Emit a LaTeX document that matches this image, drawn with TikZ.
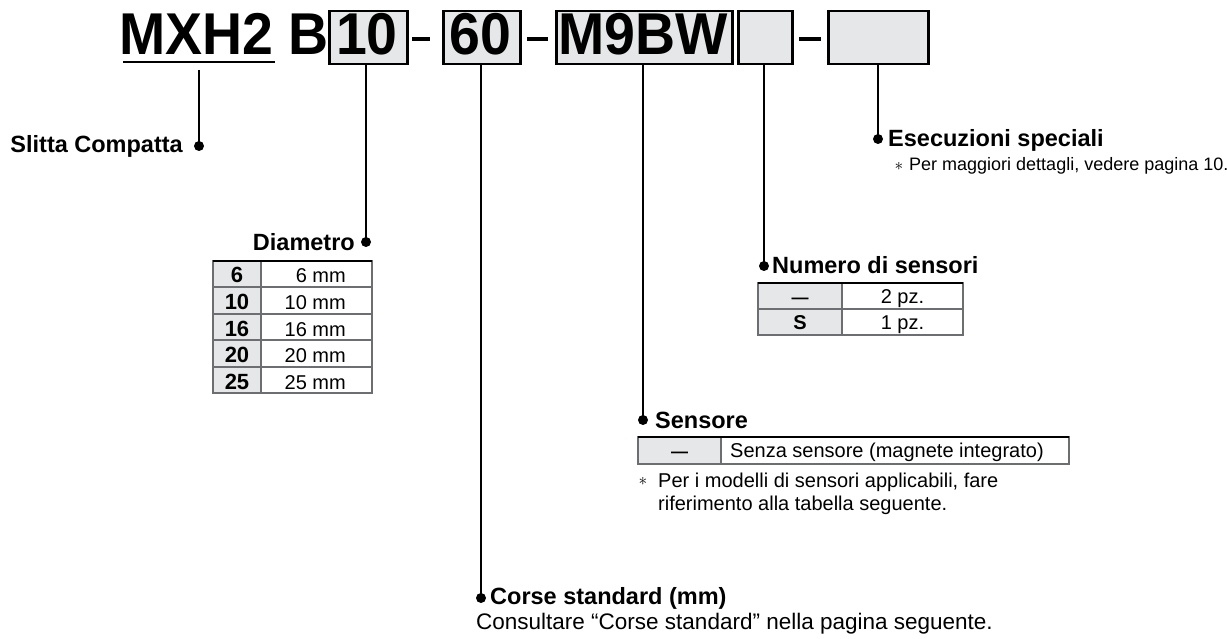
\documentclass[tikz,border=0pt]{standalone}
\usepackage{fontspec}
\setmainfont{Liberation Sans}
\definecolor{boxgray}{HTML}{E6E7E8}
\definecolor{linegray}{HTML}{6D6E71}
\begin{document}
\begin{tikzpicture}[x=1pt,y=-1pt,
  big/.style={font=\fontsize{59}{59}\selectfont\bfseries, inner sep=0pt, anchor=base},
  hbox/.style={draw=black, line width=2.5pt, fill=boxgray, inner sep=0pt, anchor=north west},
  hd/.style={font=\fontsize{23.5}{26}\selectfont\bfseries, inner sep=0pt},
  body/.style={font=\fontsize{20}{24}\selectfont, inner sep=0pt},
  note/.style={font=\fontsize{18}{22}\selectfont, inner sep=0pt},
  cellb/.style={font=\fontsize{22}{24}\selectfont\bfseries, inner sep=0pt, anchor=base},
  dashcell/.style={font=\fontsize{17}{20}\selectfont\bfseries, inner sep=0pt, anchor=base},
  star/.style={font=\fontsize{16}{16}\selectfont, inner sep=0pt},
  dot/.style={circle, fill=black, inner sep=0pt, minimum size=10pt},
  conn/.style={line width=2pt, black},
  hyph/.style={line width=3.5pt, black},
  grid/.style={draw=linegray, line width=1.5pt},
  topline/.style={line width=2pt, black}
]
\useasboundingbox (0,0) rectangle (1227,639);

% ---------- header ----------
\node[big, anchor=base west] (mxh) at (119,55) {\scalebox{0.94}[1]{MXH2}};
\draw[line width=2.5pt] (123,62) -- (275,62);
\node[big, anchor=base west] (bB) at (288,55) {\scalebox{0.94}[1]{B}};

\node[hbox, minimum width=78pt, minimum height=53pt] (b10) at (328,10) {};
\node[big] (t10) at (367,55) {\scalebox{0.94}[1]{10}};
\draw[hyph] (412,39) -- (430,39);
\node[hbox, minimum width=77pt, minimum height=53pt] (b60) at (442,10) {};
\node[big] (t60) at (480.5,55) {\scalebox{0.94}[1]{60}};
\draw[hyph] (527,39) -- (548,39);
\node[hbox, minimum width=176pt, minimum height=53pt] (bM) at (555,10) {};
\node[big] (tM) at (643,55) {\scalebox{0.94}[1]{M9BW}};
\node[hbox, minimum width=54pt, minimum height=53pt] (bE1) at (737,10) {};
\draw[hyph] (799,39) -- (821,39);
\node[hbox, minimum width=100pt, minimum height=53pt] (bE2) at (827,10) {};

% ---------- dots ----------
\node[dot] (dS) at (199,146) {};
\node[dot] (dD) at (366,242) {};
\node[dot] (dC) at (481,598) {};
\node[dot] (dSe) at (643,420) {};
\node[dot] (dN) at (764,266) {};
\node[dot] (dE) at (878,139) {};

% ---------- connectors ----------
\coordinate (mxtap) at (199,70);
\draw[conn] (mxtap) -- (dS.center);
\draw[conn] (b10.south -| dD) -- (dD.center);
\draw[conn] (b60.south -| dC) -- (dC.center);
\draw[conn] (bM.south -| dSe) -- (dSe.center);
\draw[conn] (bE1.south -| dN) -- (dN.center);
\draw[conn] (bE2.south -| dE) -- (dE.center);

% ---------- labels ----------
\node[hd, anchor=base east] (tS) at (183,153) {Slitta Compatta};
\node[hd, anchor=base east] (tD) at (355,251) {Diametro};
\node[hd, anchor=base west] (tN) at (772,274) {Numero di sensori};
\node[hd, anchor=base west] (tSe) at (655,428) {Sensore};
\node[hd, anchor=base west] (tC) at (490,604) {Corse standard (mm)};
\node[body, font=\fontsize{22.5}{26}\selectfont, anchor=base west] (tC2) at (476,629) {Consultare “Corse standard” nella pagina seguente.};
\node[hd, anchor=base west] (tE) at (888,147) {Esecuzioni speciali};
\node[star] (sE) at (899,166) {$\ast$};
\node[note, anchor=base west] (tE2) at (909,171) {Per maggiori dettagli, vedere pagina 10.};

% ---------- Diametro table ----------
\fill[boxgray] (213,261) rectangle (261,393);
\draw[grid] (213,261) rectangle (372,393);
\foreach \yy in {287,314,340,367} \draw[grid] (213,\yy) -- (372,\yy);
\draw[grid] (261,261) -- (261,393);
\draw[topline] (213,261) -- (372,261);
\node[cellb] (dk1) at (237,283) {6};
\node[cellb] (dk2) at (237,309) {10};
\node[cellb] (dk3) at (237,336) {16};
\node[cellb] (dk4) at (237,362) {20};
\node[cellb] (dk5) at (237,389) {25};
\node[body, anchor=base east] (dv1) at (346,283) {6 mm};
\node[body, anchor=base east] (dv2) at (346,309) {10 mm};
\node[body, anchor=base east] (dv3) at (346,336) {16 mm};
\node[body, anchor=base east] (dv4) at (346,362) {20 mm};
\node[body, anchor=base east] (dv5) at (346,389) {25 mm};

% ---------- Numero table ----------
\fill[boxgray] (758,283) rectangle (842,335);
\draw[grid] (758,283) rectangle (963,335);
\draw[grid] (758,309) -- (963,309);
\draw[grid] (842,283) -- (842,335);
\draw[topline] (758,283) -- (963,283);
\node[dashcell] (nk1) at (800,303.5) {—};
\node[cellb, font=\fontsize{20}{24}\selectfont\bfseries] (nk2) at (800,329.5) {S};
\node[body, anchor=base] (nv1) at (902.5,303.5) {2 pz.};
\node[body, anchor=base] (nv2) at (902.5,329.5) {1 pz.};

% ---------- Sensore table ----------
\fill[boxgray] (638,437) rectangle (721,464);
\draw[grid] (638,437) rectangle (1069,464);
\draw[grid] (721,437) -- (721,464);
\draw[topline] (638,437) -- (1069,437);
\node[dashcell] (sk1) at (679.5,457.5) {—};
\node[body, anchor=base west] (sv1) at (730,457.5) {Senza sensore (magnete integrato)};
\node[star] (sSe) at (643,481) {$\ast$};
\node[body, anchor=base west] (sn1) at (658,487) {Per i modelli di sensori applicabili, fare};
\node[body, anchor=base west] (sn2) at (658,510) {riferimento alla tabella seguente.};
\end{tikzpicture}
\end{document}
